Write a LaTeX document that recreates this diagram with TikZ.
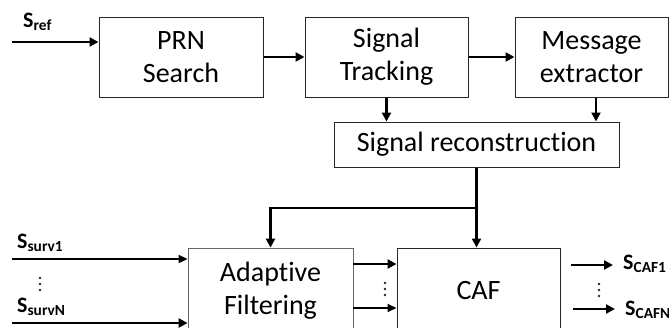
\documentclass[tikz,border=0pt]{standalone}
\usepackage{fontspec}
\setmainfont[Ligatures=NoCommon]{Carlito}
\usetikzlibrary{arrows.meta,positioning}

\begin{document}
\begin{tikzpicture}[x=1pt,y=-1pt,
    block/.style={draw=black!85, line width=1pt, align=center, inner sep=0pt,
        font=\fontsize{28}{33}\selectfont},
    flow/.style={-{Triangle[length=9pt,width=9pt]}, line width=2.6pt},
    thinflow/.style={-{Triangle[length=9pt,width=8pt]}, line width=1.6pt},
    signame/.style={inner sep=0pt, anchor=base west, font=\fontsize{22}{24}\selectfont\bfseries},
    dot/.style={fill=black!85}
    ]
    \useasboundingbox (0,0) rectangle (669,327);
    \clip (0,0) rectangle (669,327);

    % top chain
    \node[block, minimum width=164pt, minimum height=80pt] (prn) at (181,57) {PRN\\Search};
    \node[block, minimum width=163pt, minimum height=80pt] (track) at (386.5,57) {Signal\\Tracking};
    \node[block, minimum width=153pt, minimum height=80pt] (msg) at (591.5,57) {Message\\extractor};
    \node[block, minimum width=285pt, minimum height=45pt] (recon) at (476.5,144.5) {Signal reconstruction};

    % bottom chain
    \node[block, draw=black!60, line width=0.8pt, minimum width=165pt, minimum height=86pt] (adapt) at (270.5,291) {Adaptive\\Filtering};
    \node[block, minimum width=163pt, minimum height=86pt] (caf) at (478.5,291) {CAF};

    \coordinate (sref) at (12,42);
    \coordinate (surv1) at (12,259);
    \coordinate (survN) at (12,323);
    \coordinate (split) at (recon.south |- 0,208);
    \coordinate (out1) at (571,265);
    \coordinate (outN) at (573,309);

    \draw[flow] (sref) -- (sref -| prn.west);
    \draw[flow] (prn.east) -- (track.west);
    \draw[flow] (track.east) -- (msg.west);
    \draw[flow] (track.south) -- (track.south |- recon.north);
    \draw[flow] ([xshift=4.5pt]msg.south) -- ([xshift=4.5pt]msg.south |- recon.north);
    \draw[flow] (recon.south) -- (recon.south |- caf.north);
    \draw[flow] (split) -| (adapt.north);

    \draw[thinflow] (surv1) -- (surv1 -| adapt.west);
    \draw[flow] (survN) -- (survN -| adapt.west);
    \draw[flow] ([yshift=27pt]adapt.east) -- ([yshift=27pt]caf.west);
    \draw[thinflow] ([yshift=-17pt]adapt.east) -- ([yshift=-17pt]caf.west);

    \draw[flow] (out1) -- ++(42,0);
    \draw[flow] (outN) -- ++(42,0);

    % signal names
    \node[signame] (lref) at (23,27) {S\textsubscript{ref}};
    \node[signame] (lsurv1) at (17,248) {S\textsubscript{surv1}};
    \node[signame] (lsurvN) at (17,312) {S\textsubscript{survN}};
    \node[signame] (lcaf1) at (623,269) {S\textsubscript{CAF1}};
    \node[signame] (lcafN) at (625,315) {S\textsubscript{CAFN}};

    % vertical dots
    \foreach \dx/\dy in {40/278, 385/283, 599/284} {
        \foreach \k in {0,1,2}
            \fill[dot] (\dx,\dy+\k*6) circle (1.3pt);
    }
\end{tikzpicture}
\end{document}
